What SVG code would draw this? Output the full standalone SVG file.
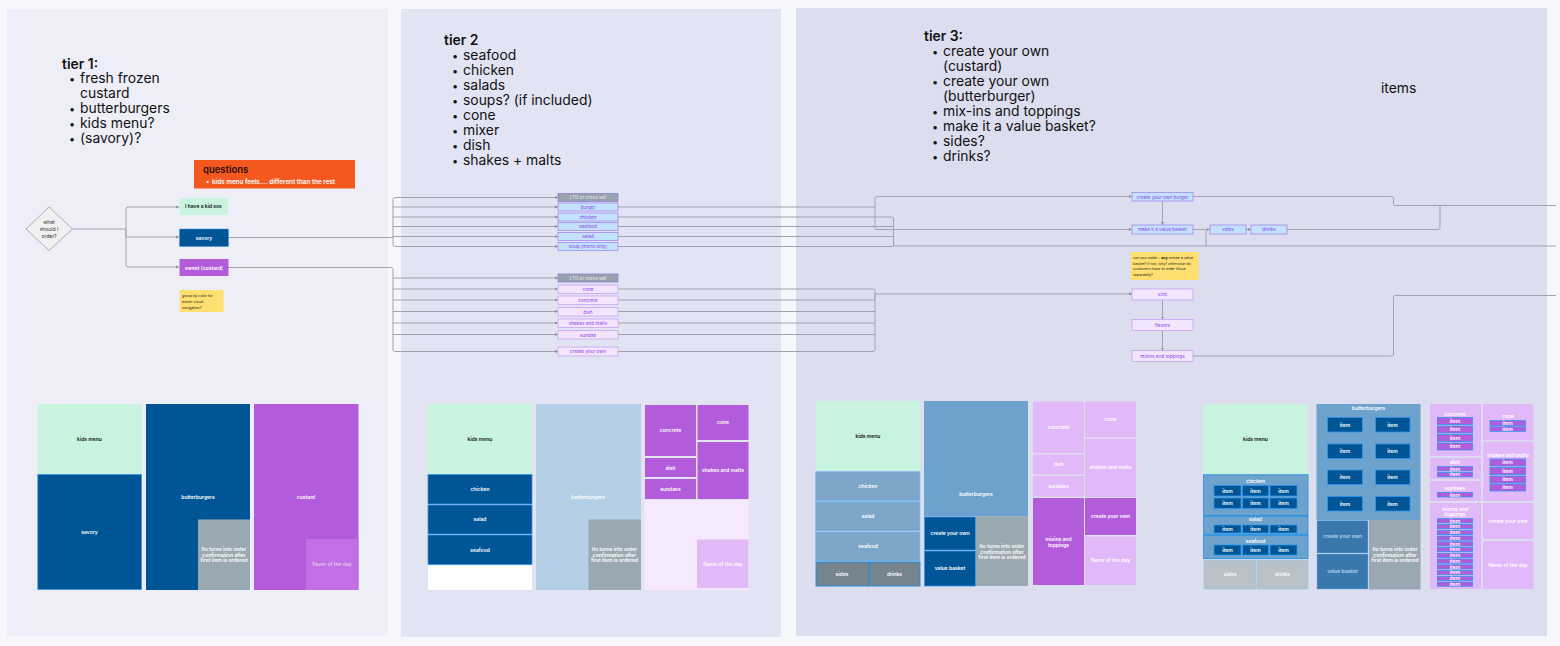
<svg xmlns="http://www.w3.org/2000/svg" width="1560" height="646" viewBox="0 0 1560 646">
<defs>
<marker id="a" markerUnits="userSpaceOnUse" markerWidth="4" markerHeight="4" refX="3" refY="2" orient="auto"><path d="M0,.4L3,2L0,3.6z" fill="#8f8f9a"/></marker>
</defs>
<style>
text{font-family:Inter,"Liberation Sans",sans-serif;text-anchor:middle;font-size:5px;font-weight:600;fill:#fff}
.h{font-size:13.9px;font-weight:400;fill:#111;text-anchor:start}
.hb{font-size:13.9px;font-weight:600;fill:#111;text-anchor:start}
.b{font-size:11px;font-weight:400;fill:#111;text-anchor:start}
.k{fill:#111}
.s{font-size:3.65px;font-weight:400;fill:#222;text-anchor:start}
.c{fill:none;stroke:#a3a3ae;stroke-width:1}
.m{marker-end:url(#a)}
.mint{fill:#c8f4df}
.navy{fill:#005596;stroke:#3b97e8;stroke-width:.8}
.navy2{fill:#005596}
.lb{fill:#b5d0e6}
.mb{fill:#6ca2cc}
.sb{fill:#7ea6c9;stroke:#6fb5ee;stroke-width:.8}
.gray{fill:#9aa8b2}
.pur{fill:#b25cdc}
.lp{fill:#e1b9f8}
.vp{fill:#f6e8fd}
.mp{fill:#c070e2}
.nb{fill:#c3e2fd;stroke:#a489ee;stroke-width:.8}
.np{fill:#f4e5fe;stroke:#c9a2f2;stroke-width:.8}
.ng{fill:#98a2ae;stroke:#8f80d8;stroke-width:.8}
.t{fill:#8b3fe8;font-weight:400;font-size:4.7px}
.tg{fill:#e8e8ee;font-weight:400;font-size:4.7px}
.st{fill:#ffdf70}
.i{fill:#005596;stroke:#2b97f0;stroke-width:.8}
.ip{fill:#b25cdc;stroke:#2b97f0;stroke-width:.8}
</style>
<rect width="1560" height="646" fill="#f6f7fb"/>
<g id="panels">
<rect x="7" y="9" width="381" height="627" fill="#eeeef9"/>
<rect x="401" y="9" width="380" height="628" fill="#e2e4f3"/>
<rect x="796" y="8" width="751" height="628" fill="#dcddef"/>
</g>
<g id="headings">
<text class="hb" x="62" y="69">tier 1:</text>
<text class="b" x="69" y="83">•</text><text class="h" x="80" y="83">fresh frozen</text><text class="h" x="80" y="98">custard</text>
<text class="b" x="69" y="113">•</text><text class="h" x="80" y="113">butterburgers</text>
<text class="b" x="69" y="128">•</text><text class="h" x="80" y="128">kids menu?</text>
<text class="b" x="69" y="143">•</text><text class="h" x="80" y="143">(savory)?</text>
<text class="hb" x="444" y="45">tier 2</text>
<text class="b" x="452" y="60">•</text><text class="h" x="463" y="60">seafood</text>
<text class="b" x="452" y="75">•</text><text class="h" x="463" y="75">chicken</text>
<text class="b" x="452" y="90">•</text><text class="h" x="463" y="90">salads</text>
<text class="b" x="452" y="105">•</text><text class="h" x="463" y="105">soups? (if included)</text>
<text class="b" x="452" y="120">•</text><text class="h" x="463" y="120">cone</text>
<text class="b" x="452" y="135">•</text><text class="h" x="463" y="135">mixer</text>
<text class="b" x="452" y="150">•</text><text class="h" x="463" y="150">dish</text>
<text class="b" x="452" y="165">•</text><text class="h" x="463" y="165">shakes + malts</text>
<text class="hb" x="924" y="41">tier 3:</text>
<text class="b" x="932" y="56">•</text><text class="h" x="943" y="56">create your own</text><text class="h" x="943" y="71">(custard)</text>
<text class="b" x="932" y="86">•</text><text class="h" x="943" y="86">create your own</text><text class="h" x="943" y="101">(butterburger)</text>
<text class="b" x="932" y="116">•</text><text class="h" x="943" y="116">mix-ins and toppings</text>
<text class="b" x="932" y="131">•</text><text class="h" x="943" y="131">make it a value basket?</text>
<text class="b" x="932" y="146">•</text><text class="h" x="943" y="146">sides?</text>
<text class="b" x="932" y="161">•</text><text class="h" x="943" y="161">drinks?</text>
<text class="h" x="1381" y="93">items</text>
</g>
<g id="connectors">
<path class="c" d="M72.500 229H126"/>
<path class="c m" d="M126 229V209Q126 207 128 207H179"/>
<path class="c m" d="M126 229V237H179"/>
<path class="c m" d="M126 229V265Q126 267 128 267H179"/>
<path class="c" d="M228 237.500H393"/>
<path class="c m" d="M393 237V199.500Q393 197.500 395 197.500H558"/>
<path class="c m" d="M393 207H558"/><path class="c m" d="M393 217H558"/><path class="c m" d="M393 226.500H558"/><path class="c m" d="M393 236.500H558"/>
<path class="c m" d="M393 237V244.500Q393 246.500 395 246.500H558"/>
<path class="c m" d="M228 267.500H391Q393 267.500 393 269.500V349.500Q393 351.500 395 351.500H558"/>
<path class="c m" d="M393 278H558"/><path class="c m" d="M393 289H558"/><path class="c m" d="M393 300H558"/><path class="c m" d="M393 311.500H558"/><path class="c m" d="M393 323H558"/><path class="c m" d="M393 334.500H558"/>
<path class="c" d="M618 207H875"/>
<path class="c m" d="M875 207V198.500Q875 196.500 877 196.500H1132"/>
<path class="c m" d="M875 207V227.500Q875 229.500 877 229.500H1132"/>
<path class="c" d="M618 217H891.500Q893.500 217 893.500 219V246"/>
<path class="c" d="M618 226.500H893.500"/><path class="c" d="M618 236.500H893.500"/>
<path class="c" d="M618 246.500H893.500"/>
<path class="c" d="M893.500 244Q893.500 246 895.500 246H1556"/>
<path class="c m" d="M1206 246V231.500Q1206 229.500 1208 229.500H1210"/>
<path class="c" d="M1193 229.500H1210"/>
<path class="c m" d="M1246 229.500H1251"/>
<path class="c" d="M618 289H873Q875 289 875 291V349.500Q875 351.500 873 351.500H618"/>
<path class="c" d="M618 300H873Q875 300 875 298V294"/>
<path class="c" d="M618 311.500H875"/><path class="c" d="M618 323H875"/><path class="c" d="M618 334.500H875"/>
<path class="c m" d="M875 294H1132"/>
<path class="c m" d="M1162.500 201V225"/>
<path class="c m" d="M1162.500 300V319.500"/>
<path class="c m" d="M1162.500 330.500V350.500"/>
<path class="c" d="M1193 196.500H1391.500Q1393.500 196.500 1393.500 198.500V203.500Q1393.500 205.500 1395.500 205.500H1556"/>
<path class="c" d="M1287 229.500H1438Q1440 229.500 1440 227.500V205.500"/>
<path class="c" d="M1193 356H1391.500Q1393.500 356 1393.500 354V297.500Q1393.500 295.500 1395.500 295.500H1556"/>
</g>
<g id="decision"><path d="M49 207L72.500 229L49 250.500L26 229z" fill="#f0f0f0" stroke="#9a9aa3" stroke-width=".8"/><text x="49" y="223.500" style="font-weight:400;fill:#333">what</text><text x="49" y="230.500" style="font-weight:400;fill:#333">should I</text><text x="49" y="237.500" style="font-weight:400;fill:#333">order?</text></g>
<g id="questions"><rect x="194" y="160" width="161" height="28.500" fill="#f4581f"/><text x="203" y="173" style="font-size:9.500px;text-anchor:start;fill:#2a1208">questions</text><text x="206" y="183.500" style="font-size:6.300px;text-anchor:start">•</text><text x="212" y="183.500" style="font-size:6.300px;text-anchor:start">kids menu feels.... different than the rest</text></g>
<g id="n-kid"><rect class="mint" x="179.500" y="198" width="48.500" height="17"/><text class="k" x="203.500" y="208">I have a kid sos</text></g>
<g id="n-savory"><rect class="navy2" x="179.500" y="229" width="49" height="17.500" rx=".8" stroke="#3b97e8" stroke-width=".5"/><text x="204" y="239.500">savory</text></g>
<g id="n-sweet"><rect class="pur" x="179.500" y="259" width="49" height="17"/><text x="204" y="269.500">sweet (custard)</text></g>
<g id="note-color"><rect class="st" x="179.500" y="290" width="44" height="22"/><text class="s" x="182" y="296.500">group by color for</text><text class="s" x="182" y="302.500">easier visual</text><text class="s" x="182" y="308.500">navigation?</text></g>
<g id="t2-nodes">
<g><rect class="ng" x="558" y="193.500" width="60" height="8"/><text class="tg" x="588" y="199.300">LTO or cross sell</text></g>
<g><rect class="nb" x="558" y="203" width="60" height="8"/><text class="t" x="588" y="208.800">burger</text></g>
<g><rect class="nb" x="558" y="213" width="60" height="8"/><text class="t" x="588" y="218.800">chicken</text></g>
<g><rect class="nb" x="558" y="222.500" width="60" height="8"/><text class="t" x="588" y="228.300">seafood</text></g>
<g><rect class="nb" x="558" y="232.500" width="60" height="8"/><text class="t" x="588" y="238.300">salad</text></g>
<g><rect class="nb" x="558" y="242.500" width="60" height="8"/><text class="t" x="588" y="248.300">soup (micro only)</text></g>
<g><rect class="ng" x="558" y="274" width="60" height="8"/><text class="tg" x="588" y="279.800">LTO or cross sell</text></g>
<g><rect class="np" x="558" y="285" width="60" height="8.500"/><text class="t" x="588" y="291">cone</text></g>
<g><rect class="np" x="558" y="296" width="60" height="8.500"/><text class="t" x="588" y="302">concrete</text></g>
<g><rect class="np" x="558" y="307.500" width="60" height="8.500"/><text class="t" x="588" y="313.500">dish</text></g>
<g><rect class="np" x="558" y="319" width="60" height="8.500"/><text class="t" x="588" y="325">shakes and malts</text></g>
<g><rect class="np" x="558" y="330.500" width="60" height="8.500"/><text class="t" x="588" y="336.500">sundae</text></g>
<g><rect class="np" x="558" y="347" width="60" height="9"/><text class="t" x="588" y="353.200">create your own</text></g>
</g>
<g id="t3-nodes">
<g><rect class="nb" x="1132" y="192.500" width="61" height="8.500"/><text class="t" x="1162.500" y="198.500">create your own burger</text></g>
<g><rect class="nb" x="1132" y="225" width="61" height="9"/><text class="t" x="1162.500" y="231.200">make it a value basket</text></g>
<g><rect class="nb" x="1210" y="225" width="36" height="9"/><text class="t" x="1228" y="231.200">sides</text></g>
<g><rect class="nb" x="1251" y="225" width="36" height="9"/><text class="t" x="1269" y="231.200">drinks</text></g>
<g><rect class="st" x="1130.500" y="252" width="68" height="28"/><text class="s" x="1133" y="258.800">can you make... <tspan font-weight="700">any</tspan> entree a value</text><text class="s" x="1133" y="264.600">basket? if not, why? otherwise do</text><text class="s" x="1133" y="270.400">customers have to order those</text><text class="s" x="1133" y="276.200">separately?</text></g>
<g><rect class="np" x="1132" y="289" width="61" height="11"/><text class="t" x="1162.500" y="296.200">size</text></g>
<g><rect class="np" x="1132" y="319.500" width="61" height="11"/><text class="t" x="1162.500" y="326.700">flavors</text></g>
<g><rect class="np" x="1132" y="350.500" width="61" height="11"/><text class="t" x="1162.500" y="357.700">mixins and toppings</text></g>
</g>
<g id="treemap-1">
<rect class="mint" x="37.500" y="404" width="104.500" height="70"/><text class="k" x="89.500" y="440.500">kids menu</text>
<rect class="navy" x="37.800" y="474.500" width="103.700" height="115"/><text x="89.500" y="534">savory</text>
<rect class="navy2" x="146" y="404" width="104" height="186"/><text x="198" y="498.500">butterburgers</text>
<rect class="gray" x="198" y="519.500" width="52" height="70.500"/><text x="224" y="550.500">Ito turns into order</text><text x="224" y="556.500">confirmation after</text><text x="224" y="562">first item is ordered</text>
<rect class="pur" x="254" y="404" width="104.500" height="186"/><text x="306" y="498.500">custard</text>
<rect class="mp" x="306" y="539" width="52.500" height="51"/><text x="332" y="565.500" style="fill:#e6c6f4">flavor of the day</text>
</g>
<g id="treemap-2">
<rect class="mint" x="428" y="404" width="104.500" height="70"/><text class="k" x="480" y="440.500">kids menu</text>
<rect class="navy" x="428" y="474.500" width="104" height="29.500"/><text x="480" y="491">chicken</text>
<rect class="navy" x="428" y="505" width="104" height="29"/><text x="480" y="521">salad</text>
<rect class="navy" x="428" y="535" width="104" height="29.500"/><text x="480" y="551.500">seafood</text>
<rect x="428" y="565.500" width="104" height="24.500" fill="#fff"/>
<rect class="lb" x="536" y="404" width="105" height="186"/><text x="588" y="498.500">butterburgers</text>
<rect class="gray" x="588.500" y="519.500" width="52.500" height="70.500"/><text x="614.500" y="550.500">Ito turns into order</text><text x="614.500" y="556.500">confirmation after</text><text x="614.500" y="562">first item is ordered</text>
<rect class="vp" x="644.500" y="500" width="104" height="90"/>
<rect class="pur" x="645" y="405" width="51" height="51"/><text x="670.500" y="432">concrete</text>
<rect class="pur" x="697.500" y="405" width="51" height="35"/><text x="723" y="424">cone</text>
<rect class="pur" x="697.500" y="442" width="51" height="57"/><text x="723" y="472">shakes and malts</text>
<rect class="pur" x="645" y="458" width="51" height="19"/><text x="670.500" y="469.500">dish</text>
<rect class="pur" x="645" y="479" width="51" height="20"/><text x="670.500" y="490.500">sundaes</text>
<rect class="lp" x="697" y="539.500" width="51.500" height="48.500"/><text x="723" y="565.500">flavor of the day</text>
</g>
<g id="treemap-3">
<rect class="mint" x="815.500" y="401" width="104.500" height="70"/><text class="k" x="868" y="437.500">kids menu</text>
<rect class="sb" x="815.800" y="471.800" width="104" height="29"/><text x="868" y="487.500">chicken</text>
<rect class="sb" x="815.800" y="501.800" width="104" height="29"/><text x="868" y="518">salad</text>
<rect class="sb" x="815.800" y="532" width="104" height="29"/><text x="868" y="548">seafood</text>
<rect x="816" y="562" width="53" height="24" fill="#76848e" stroke="#1c8fe6" stroke-width=".9"/><text x="842" y="575.800">sides</text>
<rect x="869" y="562" width="51" height="24" fill="#76848e" stroke="#1c8fe6" stroke-width=".9"/><text x="894.500" y="575.800">drinks</text>
<rect class="mb" x="924" y="401" width="104" height="115.500"/><text x="976" y="495.500">butterburgers</text>
<rect class="navy" x="924.500" y="517" width="51" height="33"/><text x="950" y="535">create your own</text>
<rect class="navy" x="924.500" y="551" width="51" height="35"/><text x="950" y="570">value basket</text>
<rect class="gray" x="976" y="516.500" width="52" height="69.500"/><text x="1002" y="547.500">Ito turns into order</text><text x="1002" y="553.500">confirmation after</text><text x="1002" y="559">first item is ordered</text>
<rect class="lp" x="1033" y="401.500" width="51" height="51.500"/><text x="1058.500" y="429">concrete</text>
<rect class="lp" x="1085" y="401.500" width="51" height="36"/><text x="1110.500" y="421">cone</text>
<rect class="lp" x="1085" y="439" width="51" height="58"/><text x="1110.500" y="469">shakes and malts</text>
<rect class="lp" x="1033" y="454.500" width="51" height="20"/><text x="1058.500" y="466">dish</text>
<rect class="lp" x="1033" y="476" width="51" height="20.500"/><text x="1058.500" y="487.500">sundaes</text>
<rect class="pur" x="1033" y="498" width="51" height="87"/><text x="1058.500" y="540.500">mixins and</text><text x="1058.500" y="546.500">toppings</text>
<rect class="pur" x="1085" y="498" width="51" height="37"/><text x="1110.500" y="518">create your own</text>
<rect class="lp" x="1085" y="536.500" width="51" height="48.500"/><text x="1110.500" y="562">flavor of the day</text>
</g>
<g id="treemap-items">
<rect class="mint" x="1203" y="404" width="105" height="70"/><text class="k" x="1255.500" y="440.500">kids menu</text>
<rect class="sb" x="1203.500" y="474.800" width="104.500" height="40.700" style="fill:#6ca2cc;stroke:#1c8fe6"/><text x="1255.500" y="482.500">chicken</text>
<rect class="i" x="1214" y="485.500" width="27" height="10.500"/><rect class="i" x="1242.500" y="485.500" width="26" height="10.500"/><rect class="i" x="1270" y="485.500" width="27" height="10.500"/>
<rect class="i" x="1214" y="498" width="27" height="10.500"/><rect class="i" x="1242.500" y="498" width="26" height="10.500"/><rect class="i" x="1270" y="498" width="27" height="10.500"/>
<text x="1227.500" y="492.500">item</text><text x="1255.500" y="492.500">item</text><text x="1283.500" y="492.500">item</text>
<text x="1227.500" y="505">item</text><text x="1255.500" y="505">item</text><text x="1283.500" y="505">item</text>
<rect class="sb" x="1203.500" y="516" width="104.500" height="18.500" style="fill:#6ca2cc;stroke:#1c8fe6"/><text x="1255.500" y="521">salad</text>
<rect class="i" x="1214" y="525" width="27" height="8"/><rect class="i" x="1242.500" y="525" width="26" height="8"/><rect class="i" x="1270" y="525" width="27" height="8"/>
<text x="1227.500" y="530.600">item</text><text x="1255.500" y="530.600">item</text><text x="1283.500" y="530.600">item</text>
<rect class="sb" x="1203.500" y="535.500" width="104.500" height="23" style="fill:#6ca2cc;stroke:#1c8fe6"/><text x="1255.500" y="542.500">seafood</text>
<rect class="i" x="1214" y="545" width="27" height="10"/><rect class="i" x="1242.500" y="545" width="26" height="10"/><rect class="i" x="1270" y="545" width="27" height="10"/>
<text x="1227.500" y="551.800">item</text><text x="1255.500" y="551.800">item</text><text x="1283.500" y="551.800">item</text>
<rect x="1204" y="560" width="52" height="29" fill="#b7c1c7" stroke="#8fc6f2" stroke-width=".6"/><text x="1230" y="576">sides</text>
<rect x="1257" y="560" width="51" height="29" fill="#b7c1c7" stroke="#8fc6f2" stroke-width=".6"/><text x="1282.500" y="576">drinks</text>
<rect class="mb" x="1316.500" y="404" width="104" height="116"/><text x="1368.500" y="410">butterburgers</text>
<rect class="i" x="1327.500" y="417.500" width="35" height="14.500"/><rect class="i" x="1375.500" y="417.500" width="34.500" height="14.500"/>
<rect class="i" x="1327.500" y="444" width="35" height="14.500"/><rect class="i" x="1375.500" y="444" width="34.500" height="14.500"/>
<rect class="i" x="1327.500" y="470" width="35" height="14.500"/><rect class="i" x="1375.500" y="470" width="34.500" height="14.500"/>
<rect class="i" x="1327.500" y="496.500" width="35" height="14.500"/><rect class="i" x="1375.500" y="496.500" width="34.500" height="14.500"/>
<text x="1345" y="426.500">item</text><text x="1392.500" y="426.500">item</text><text x="1345" y="453">item</text><text x="1392.500" y="453">item</text><text x="1345" y="479">item</text><text x="1392.500" y="479">item</text><text x="1345" y="505.500">item</text><text x="1392.500" y="505.500">item</text>
<rect x="1317" y="520.500" width="51" height="32.500" fill="#3878ad" stroke="#6fb5ee" stroke-width=".5"/><text x="1342.500" y="538" style="fill:#b9d3e8">create your own</text>
<rect x="1317" y="554" width="51" height="35" fill="#3878ad" stroke="#6fb5ee" stroke-width=".5"/><text x="1342.500" y="573" style="fill:#b9d3e8">value basket</text>
<rect class="gray" x="1369" y="520" width="51.500" height="69.500"/><text x="1395" y="550.500">Ito turns into order</text><text x="1395" y="556.500">confirmation after</text><text x="1395" y="562">first item is ordered</text>
<rect class="lp" x="1430" y="404" width="51" height="52"/><text x="1455" y="415.500">concrete</text>
<rect class="ip" x="1437.500" y="417.500" width="35" height="7"/><rect class="ip" x="1437.500" y="426" width="35" height="7"/><rect class="ip" x="1437.500" y="434.500" width="35" height="7"/><rect class="ip" x="1437.500" y="443" width="35" height="7"/>
<text x="1455" y="422.800">item</text><text x="1455" y="431.300">item</text><text x="1455" y="439.800">item</text><text x="1455" y="448.300">item</text>
<rect class="lp" x="1430" y="458" width="51" height="21"/><text x="1455" y="464">dish</text>
<rect class="ip" x="1437.500" y="466.700" width="35" height="4.200"/><rect class="ip" x="1437.500" y="472.600" width="35" height="4.200"/>
<text x="1455" y="470.500">item</text><text x="1455" y="476.400">item</text>
<rect class="lp" x="1430" y="481" width="51" height="20"/><text x="1455" y="490">sundaes</text>
<rect class="ip" x="1437.500" y="492.500" width="35" height="4.500"/><text x="1455" y="496.500">item</text>
<rect class="lp" x="1430" y="503" width="51" height="86"/><text x="1455" y="510.700">mixins and</text><text x="1455" y="516">toppings</text>
<g id="mix-items">
<rect class="ip" x="1437.500" y="518.700" width="35" height="4.200"/><text x="1455" y="522.500">item</text>
<rect class="ip" x="1437.500" y="524.500" width="35" height="4.200"/><text x="1455" y="528.300">item</text>
<rect class="ip" x="1437.500" y="530.300" width="35" height="4.200"/><text x="1455" y="534.100">item</text>
<rect class="ip" x="1437.500" y="536" width="35" height="4.200"/><text x="1455" y="539.800">item</text>
<rect class="ip" x="1437.500" y="541.800" width="35" height="4.200"/><text x="1455" y="545.600">item</text>
<rect class="ip" x="1437.500" y="547.500" width="35" height="4.200"/><text x="1455" y="551.300">item</text>
<rect class="ip" x="1437.500" y="553.300" width="35" height="4.200"/><text x="1455" y="557.100">item</text>
<rect class="ip" x="1437.500" y="559" width="35" height="4.200"/><text x="1455" y="562.800">item</text>
<rect class="ip" x="1437.500" y="564.800" width="35" height="4.200"/><text x="1455" y="568.600">item</text>
<rect class="ip" x="1437.500" y="570.500" width="35" height="4.200"/><text x="1455" y="574.300">item</text>
<rect class="ip" x="1437.500" y="576.300" width="35" height="4.200"/><text x="1455" y="580.100">item</text>
<rect class="ip" x="1437.500" y="582" width="35" height="4.200"/><text x="1455" y="585.800">item</text>
</g>
<rect class="lp" x="1483" y="404" width="50.500" height="36"/><text x="1508" y="418">cone</text>
<rect class="ip" x="1490" y="420.700" width="35.500" height="5"/><rect class="ip" x="1490" y="426.800" width="35.500" height="4.500"/>
<text x="1507.500" y="425">item</text><text x="1507.500" y="430.800">item</text>
<rect class="lp" x="1483" y="441.500" width="50.500" height="59.500"/><text x="1508" y="456.800">shakes and malts</text>
<rect class="ip" x="1490" y="459" width="35.500" height="7"/><rect class="ip" x="1490" y="467.500" width="35.500" height="7"/><rect class="ip" x="1490" y="476" width="35.500" height="7"/><rect class="ip" x="1490" y="484" width="35.500" height="7"/>
<text x="1507.500" y="464.300">item</text><text x="1507.500" y="472.800">item</text><text x="1507.500" y="481.300">item</text><text x="1507.500" y="489.300">item</text>
<rect class="lp" x="1483" y="503" width="50.500" height="36"/><text x="1508" y="523">create your own</text>
<rect class="lp" x="1483" y="541" width="50.500" height="48"/><text x="1508" y="567">flavor of the day</text>
</g>
</svg>
